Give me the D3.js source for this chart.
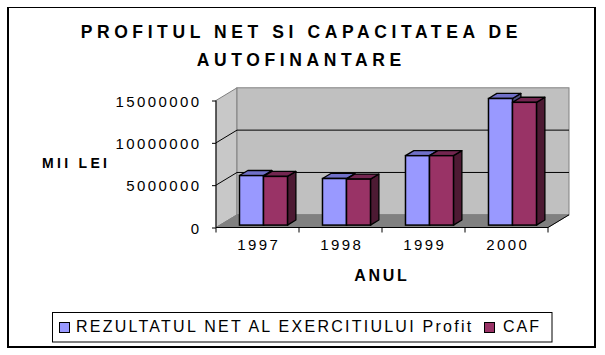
<!DOCTYPE html>
<html>
<head>
<meta charset="utf-8">
<script src="https://cdn.jsdelivr.net/npm/d3@7"></script>
<style>
  html, body { margin: 0; padding: 0; background: #ffffff; }
  svg { display: block; font-family: Arial, "Liberation Sans", sans-serif; }
</style>
</head>
<body>
<svg id="chart" width="605" height="355"></svg>
<script>
// ---- data ----
const years = ["1997", "1998", "1999", "2000"];
const profitValues = [5850000, 5500000, 8200000, 14950000];
const cafValues = [5750000, 5430000, 8200000, 14500000];
const yTickValues = [0, 5000000, 10000000, 15000000];
const seriesNames = ["REZULTATUL NET AL EXERCITIULUI Profit", "CAF"];
const titleLines = ["PROFITUL NET SI CAPACITATEA DE", "AUTOFINANTARE"];
const yAxisTitle = "MII LEI";
const xAxisTitle = "ANUL";

// ---- styles ----
const colors = [
  { front: "#9999ff", top: "#7070c8", side: "#4d4d80" },
  { front: "#993366", top: "#732650", side: "#4d1a33" }
];

const svg = d3.select("#chart");

// outer frame
svg.append("rect").attr("x", 7.5).attr("y", 7.5).attr("width", 587.5).attr("height", 339)
  .attr("fill", "none").attr("stroke", "#000").attr("stroke-width", 1);
svg.append("line").attr("x1", 8).attr("x2", 8).attr("y1", 7).attr("y2", 348).attr("stroke", "#000").attr("stroke-width", 2);
svg.append("line").attr("x1", 595).attr("x2", 595).attr("y1", 7).attr("y2", 348).attr("stroke", "#000").attr("stroke-width", 2);
svg.append("line").attr("x1", 7).attr("x2", 596).attr("y1", 347).attr("y2", 347).attr("stroke", "#000").attr("stroke-width", 2);

// ---- scales ----
const y = d3.scaleLinear().domain([0, 15000000]).range([227.5, 100.5]);
const x = d3.scaleBand().domain(years).range([216, 548]).padding(0);
const xs = d3.scaleBand().domain([0, 1]).range([19.5, 67.5]).padding(0);
const DX = 21, DY = -12.7;          // depth of the 3D box
const F0 = 0.19, F1 = 0.59;         // bar depth start / end fractions

const x0 = x.range()[0], x1 = x.range()[1];
const yb = y(0), yt = y(15000000);

// walls
svg.append("polygon")
  .attr("points", [[x0, yt], [x0 + DX, yt + DY], [x0 + DX, yb + DY], [x0, yb]].join(" "))
  .attr("fill", "#c8c8c8").attr("stroke", "#808080").attr("stroke-width", 1);
svg.append("rect")
  .attr("x", x0 + DX).attr("y", yt + DY).attr("width", x1 - x0).attr("height", yb - yt)
  .attr("fill", "#c0c0c0").attr("stroke", "#808080").attr("stroke-width", 1);
svg.append("polygon")
  .attr("points", [[x0, yb], [x1, yb], [x1 + DX, yb + DY], [x0 + DX, yb + DY]].join(" "))
  .attr("fill", "#808080").attr("stroke", "#808080").attr("stroke-width", 1);
svg.append("line")
  .attr("x1", x1).attr("y1", yb).attr("x2", x1 + DX).attr("y2", yb + DY)
  .attr("stroke", "#000").attr("stroke-width", 1);

// gridlines (wall + back)
const grid = yTickValues.filter(v => v > 0 && v < 15000000);
grid.forEach(v => {
  svg.append("polyline")
    .attr("points", [[x0, y(v)], [x0 + DX, y(v) + DY], [x1 + DX, y(v) + DY]].join(" "))
    .attr("fill", "none").attr("stroke", "#000").attr("stroke-width", 1);
});

// ---- bars ----
const series = [profitValues, cafValues];
years.forEach((yr, ci) => {
  series.forEach((vals, si) => {
    const v = vals[ci];
    const bx = x(yr) + xs(si) + F0 * DX;
    const bw = xs.bandwidth();
    const byTop = y(v) + F0 * DY;
    const byBot = y(0) + F0 * DY;
    const ddx = (F1 - F0) * DX, ddy = (F1 - F0) * DY;
    const g = svg.append("g");
    g.append("polygon")
      .attr("points", [[bx + bw, byTop], [bx + bw + ddx, byTop + ddy], [bx + bw + ddx, byBot + ddy], [bx + bw, byBot]].join(" "))
      .attr("fill", colors[si].side).attr("stroke", "#000").attr("stroke-width", 1.3).attr("stroke-linejoin", "round");
    g.append("polygon")
      .attr("points", [[bx, byTop], [bx + ddx, byTop + ddy], [bx + bw + ddx, byTop + ddy], [bx + bw, byTop]].join(" "))
      .attr("fill", colors[si].top).attr("stroke", "#000").attr("stroke-width", 1.3).attr("stroke-linejoin", "round");
    g.append("rect")
      .attr("x", bx).attr("y", byTop).attr("width", bw).attr("height", byBot - byTop)
      .attr("fill", colors[si].front).attr("stroke", "#000").attr("stroke-width", 1.5);
  });
});

// ---- axes ----
const tickFont = 15, tickLS = 2.4;
const yAxis = d3.axisLeft(y).tickValues(yTickValues).tickSize(4).tickPadding(10.6).tickFormat(d3.format("d"));
const gy = svg.append("g").attr("transform", `translate(${x0},0)`).call(yAxis);
gy.select(".domain").attr("stroke", "#000").attr("d", `M0,${yt}V${yb}`);
gy.selectAll(".tick line").attr("stroke", "#000");
gy.selectAll(".tick text").attr("font-size", tickFont).attr("font-family", "Arial, 'Liberation Sans', sans-serif")
  .attr("letter-spacing", tickLS).attr("fill", "#000").attr("dy", "0.37em");

const xAxis = d3.axisBottom(x).tickSize(0).tickPadding(11.8);
const gx = svg.append("g").attr("transform", `translate(0,${yb})`).call(xAxis);
gx.select(".domain").attr("stroke", "#000").attr("d", `M${x0},0H${x1}`);
gx.selectAll(".tick text").attr("font-size", tickFont).attr("font-family", "Arial, 'Liberation Sans', sans-serif")
  .attr("letter-spacing", tickLS).attr("fill", "#000").attr("dx", tickLS / 2);
const bounds = years.map(d => x(d)).concat([x1]);
gx.selectAll(".btick").data(bounds).join("line").attr("class", "btick")
  .attr("x1", d => d).attr("x2", d => d).attr("y1", 0).attr("y2", 5).attr("stroke", "#000");

// ---- titles ----
const titleLS = 4.6;
svg.selectAll(".title").data(titleLines).join("text").attr("class", "title")
  .attr("x", 299 + titleLS / 2).attr("y", (d, i) => 37.7 + i * 28.3)
  .attr("text-anchor", "middle").attr("font-size", 17.5).attr("font-weight", "bold")
  .attr("letter-spacing", titleLS).attr("fill", "#000").text(d => d);

svg.append("text").attr("x", 42).attr("y", 168.3).attr("font-size", 14).attr("font-weight", "bold")
  .attr("letter-spacing", 3.3).attr("fill", "#000").text(yAxisTitle);

svg.append("text").attr("x", 380.5 + 1.35).attr("y", 281).attr("text-anchor", "middle")
  .attr("font-size", 16).attr("font-weight", "bold").attr("letter-spacing", 2.7).attr("fill", "#000").text(xAxisTitle);

// ---- legend ----
svg.append("rect").attr("x", 52.5).attr("y", 312.5).attr("width", 499.5).attr("height", 29.5)
  .attr("fill", "#fff").attr("stroke", "#000").attr("stroke-width", 1);
const legendX = [59, 484];
const lg = svg.selectAll(".leg").data(seriesNames).join("g").attr("class", "leg")
  .attr("transform", (d, i) => `translate(${legendX[i]},0)`);
lg.append("rect").attr("x", 0.5).attr("y", 322.5).attr("width", 10).attr("height", 10)
  .attr("fill", (d, i) => colors[i].front).attr("stroke", "#000").attr("stroke-width", 1);
lg.append("text").attr("x", (d, i) => i === 0 ? 17 : 19).attr("y", 332)
  .attr("font-size", 16).attr("letter-spacing", (d, i) => i === 0 ? 2.25 : 2.0).attr("fill", "#000").text(d => d);
</script>
</body>
</html>
